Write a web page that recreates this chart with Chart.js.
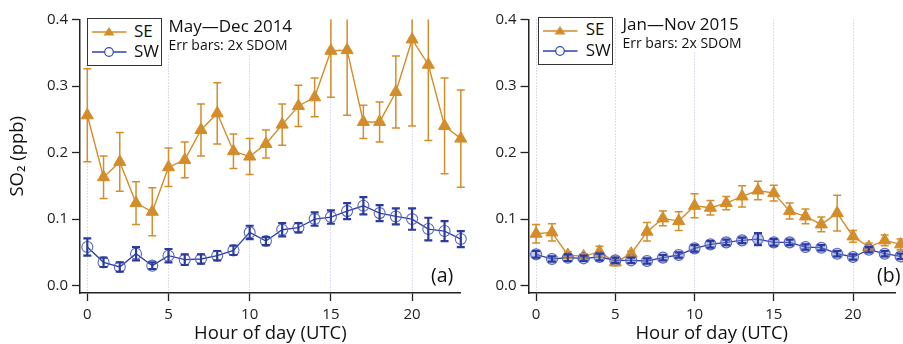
<!DOCTYPE html>
<html lang="en">
<head>
  <meta charset="UTF-8" />
  <title>SO2 by hour of day</title>
  <script src="https://cdn.jsdelivr.net/npm/chart.js"></script>
  <style>
    body {
      margin: 0;
      background: #fff;
      font-family: "Open Sans", sans-serif;
      color: #111;
    }
    .wrap {
      position: relative;
      width: 903px;
      height: 344px;
      overflow: hidden;
    }
    canvas {
      position: absolute;
      top: 0;
    }
    .legend {
      position: absolute;
      width: 73px;
      height: 46px;
      border: 1.5px solid #333;
      background: #fff;
    }
    .legend svg {
      position: absolute;
      left: 0;
      top: 0;
    }
    .legend span {
      position: absolute;
      left: 46.5px;
      font-size: 17px;
      line-height: 20px;
    }
    .note {
      position: absolute;
      background: #fff;
      padding: 0 3px 0 3px;
    }
    .note .big { font-size: 17px; line-height: 21px; }
    .note .small { font-size: 14px; line-height: 18px; }
    .tag {
      position: absolute;
      font-size: 19.5px;
      line-height: 24px;
    }
  </style>
</head>
<body>
  <div class="wrap">
    <canvas id="chartA" width="470" height="344" style="left:0"></canvas>
    <canvas id="chartB" width="433" height="344" style="left:470px"></canvas>

    <div class="legend" style="left:86.5px; top:18.3px;">
      <svg width="44" height="46">
        <line x1="4" y1="13" x2="38.5" y2="13" stroke="#d38d2a" stroke-width="1.5" />
        <polygon points="21,8 26.5,16.5 15.5,16.5" fill="#d38d2a" />
        <line x1="4" y1="33" x2="38.5" y2="33" stroke="#3040a8" stroke-width="1.3" />
        <circle cx="21" cy="33" r="4.3" fill="#fff" stroke="#3a4ab8" stroke-width="1.2" />
      </svg>
      <span style="top:1.5px">SE</span>
      <span style="top:22px">SW</span>
    </div>
    <div class="note" style="left:165.5px; top:15px;">
      <div class="big">May—Dec 2014</div>
      <div class="small">Err bars: 2x SDOM</div>
    </div>
    <div class="tag" style="left:431px; top:263px;">(a)</div>

    <div class="legend" style="left:538.3px; top:16.7px;">
      <svg width="44" height="46">
        <line x1="4" y1="13" x2="38.5" y2="13" stroke="#d38d2a" stroke-width="1.5" />
        <polygon points="21,8 26.5,16.5 15.5,16.5" fill="#d38d2a" />
        <line x1="4" y1="33" x2="38.5" y2="33" stroke="#3040a8" stroke-width="1.3" />
        <circle cx="21" cy="33" r="4.3" fill="#fff" stroke="#3a4ab8" stroke-width="1.2" />
      </svg>
      <span style="top:1.5px">SE</span>
      <span style="top:22px">SW</span>
    </div>
    <div class="note" style="left:619.5px; top:12.5px;">
      <div class="big">Jan—Nov 2015</div>
      <div class="small">Err bars: 2x SDOM</div>
    </div>
    <div class="tag" style="left:877px; top:263px;">(b)</div>
  </div>

  <script>
    const hours = [0, 1, 2, 3, 4, 5, 6, 7, 8, 9, 10, 11, 12, 13, 14, 15, 16, 17, 18, 19, 20, 21, 22, 23];
    const xTicks = [0, 5, 10, 15, 20];
    const yTicks = [0, 0.1, 0.2, 0.3, 0.4];

    // (a) May-Dec 2014
    const seA = [0.256, 0.163, 0.186, 0.124, 0.111, 0.178, 0.189, 0.234, 0.259, 0.202, 0.194, 0.213,
                 0.242, 0.270, 0.283, 0.353, 0.354, 0.246, 0.246, 0.291, 0.370, 0.332, 0.240, 0.221];
    const seAErr = [0.070, 0.032, 0.044, 0.032, 0.036, 0.029, 0.027, 0.039, 0.046, 0.026, 0.027, 0.021,
                    0.031, 0.031, 0.029, 0.070, 0.098, 0.025, 0.030, 0.054, 0.130, 0.114, 0.072, 0.073];
    const swA = [0.058, 0.035, 0.028, 0.048, 0.030, 0.045, 0.039, 0.040, 0.045, 0.053, 0.080, 0.067,
                 0.084, 0.087, 0.100, 0.103, 0.112, 0.120, 0.109, 0.104, 0.100, 0.085, 0.082, 0.070];
    const swAErr = [0.013, 0.007, 0.007, 0.010, 0.005, 0.010, 0.008, 0.007, 0.007, 0.007, 0.010, 0.006,
                    0.010, 0.007, 0.010, 0.010, 0.012, 0.013, 0.012, 0.012, 0.016, 0.017, 0.015, 0.012];

    // (b) Jan-Nov 2015
    const seB = [0.078, 0.080, 0.046, 0.044, 0.051, 0.035, 0.048, 0.081, 0.101, 0.097, 0.120, 0.117,
                 0.124, 0.134, 0.143, 0.139, 0.112, 0.104, 0.092, 0.109, 0.074, 0.058, 0.068, 0.062];
    const seBErr = [0.014, 0.013, 0.005, 0.004, 0.008, 0.005, 0.004, 0.014, 0.011, 0.014, 0.018, 0.011,
                    0.010, 0.016, 0.014, 0.012, 0.012, 0.011, 0.011, 0.027, 0.009, 0.006, 0.008, 0.008];
    const swB = [0.047, 0.040, 0.042, 0.041, 0.043, 0.038, 0.038, 0.037, 0.042, 0.046, 0.056, 0.062,
                 0.065, 0.068, 0.070, 0.065, 0.065, 0.058, 0.057, 0.048, 0.043, 0.054, 0.048, 0.044];
    const swBErr = [0.005, 0.004, 0.005, 0.004, 0.005, 0.004, 0.004, 0.004, 0.004, 0.004, 0.005, 0.005,
                    0.004, 0.004, 0.009, 0.005, 0.004, 0.004, 0.004, 0.004, 0.004, 0.004, 0.004, 0.004];

    const orange = "#d38d2a";
    const blue = "#3040a8";
    const axisColor = "#222";
    const fontFamily = "'Open Sans', sans-serif";

    // error bars drawn from each dataset's errors array, clipped to the plot top
    const errorBars = {
      id: "errorBars",
      afterDatasetsDraw(chart) {
        const { ctx, chartArea, scales } = chart;
        ctx.save();
        ctx.beginPath();
        ctx.rect(0, chartArea.top, chart.width, chartArea.bottom - chartArea.top);
        ctx.clip();
        chart.data.datasets.forEach(ds => {
          ctx.strokeStyle = ds.errColor;
          ctx.lineWidth = ds.errWidth;
          ds.data.forEach((v, i) => {
            const e = ds.errors[i];
            const px = scales.x.getPixelForValue(hours[i]);
            const top = scales.y.getPixelForValue(v + e);
            const bot = scales.y.getPixelForValue(v - e);
            ctx.beginPath();
            ctx.moveTo(px, top);
            ctx.lineTo(px, bot);
            ctx.moveTo(px - 4, top);
            ctx.lineTo(px + 4, top);
            ctx.moveTo(px - 4, bot);
            ctx.lineTo(px + 4, bot);
            ctx.stroke();
          });
        });
        ctx.restore();
      }
    };

    function makeChart(id, se, seErr, sw, swErr, opts) {
      return new Chart(document.getElementById(id), {
        type: "line",
        data: {
          labels: hours,
          datasets: [
            {
              label: "SE",
              data: se,
              errors: seErr,
              errColor: orange,
              errWidth: 1.5,
              borderColor: orange,
              borderWidth: 1.4,
              pointStyle: "triangle",
              pointRadius: 7,
              pointBackgroundColor: orange,
              pointBorderColor: orange,
              pointBorderWidth: 1,
              tension: 0,
              clip: false,
              order: 2
            },
            {
              label: "SW",
              data: sw,
              errors: swErr,
              errColor: "#2a3a9e",
              errWidth: 2.2,
              borderColor: blue,
              borderWidth: 1.3,
              pointStyle: "circle",
              pointRadius: 5.5,
              pointBackgroundColor: opts.circleFill,
              pointBorderColor: "#5868c4",
              pointBorderWidth: 1.1,
              tension: 0,
              clip: false,
              order: 1
            }
          ]
        },
        options: {
          responsive: false,
          animation: false,
          layout: { padding: { top: 19.5, right: opts.padRight, bottom: 0, left: 0 } },
          plugins: {
            legend: { display: false },
            tooltip: { enabled: false }
          },
          scales: {
            x: {
              type: "linear",
              min: opts.xMin,
              max: opts.xMax,
              afterBuildTicks: s => { s.ticks = xTicks.map(v => ({ value: v })); },
              afterFit: s => { s.height = 51; },
              grid: {
                color: "#b9b9e6",
                lineWidth: 1,
                tickLength: 8,
                tickColor: axisColor,
                tickWidth: 1.3
              },
              border: { display: true, color: axisColor, width: 1.5, dash: [1, 2] },
              ticks: {
                color: axisColor,
                font: { size: 15, family: fontFamily },
                padding: 5,
                maxRotation: 0,
                autoSkip: false
              },
              title: {
                display: true,
                text: "Hour of day (UTC)",
                color: "#111",
                font: { size: 18.5, family: fontFamily, lineHeight: 1 },
                padding: { top: 0, bottom: 1 }
              }
            },
            y: {
              min: -0.0111,
              max: 0.4,
              afterBuildTicks: s => { s.ticks = yTicks.map(v => ({ value: v })); },
              afterFit: s => { s.width = opts.yWidth; },
              grid: {
                drawOnChartArea: false,
                tickLength: 8,
                tickColor: axisColor,
                tickWidth: 1.3
              },
              border: { display: true, color: axisColor, width: 1.5 },
              ticks: {
                color: axisColor,
                font: { size: 15, family: fontFamily },
                padding: 4,
                callback: v => v.toFixed(1)
              },
              title: {
                display: opts.yTitle,
                text: "SO₂ (ppb)",
                color: "#111",
                font: { size: 18.5, family: fontFamily, lineHeight: 1 },
                padding: { top: 8, bottom: 0 }
              }
            }
          }
        },
        plugins: [errorBars]
      });
    }

    makeChart("chartA", seA, seAErr, swA, swAErr, {
      xMin: -0.45, xMax: 23, padRight: 9.2, yWidth: 80, yTitle: true,
      circleFill: "rgba(255,255,255,0)"
    });
    makeChart("chartB", seB, seBErr, swB, swBErr, {
      xMin: -0.48, xMax: 22.65, padRight: 0, yWidth: 58.5, yTitle: false,
      circleFill: "rgba(120,135,215,0.45)"
    });
  </script>
</body>
</html>
